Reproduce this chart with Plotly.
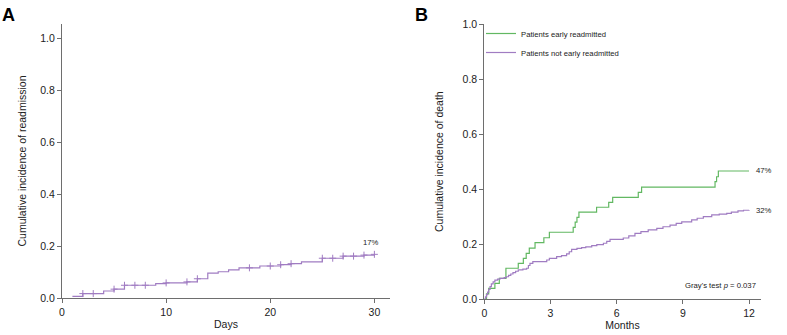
import numpy as np
import plotly.graph_objects as go

# ---------------- Data ----------------
# Panel A: cumulative incidence of readmission (days)
a_days = [1, 2, 4, 5, 6, 9, 10, 12, 13, 14, 15, 16, 17, 19, 21, 22, 23, 25, 27, 29, 30]
a_cif = [0.006, 0.017, 0.027, 0.034, 0.049, 0.055, 0.058, 0.062, 0.074, 0.096, 0.101,
         0.108, 0.116, 0.123, 0.128, 0.132, 0.139, 0.153, 0.161, 0.165, 0.168]
a_censor_days = [2, 3, 5, 6, 7, 8, 10, 12, 13, 18, 20, 21, 22, 25, 26, 27, 28, 29, 30]

# Panel B: cumulative incidence of death (months)
g_months = [0, 0.1, 0.2, 0.48, 0.68, 0.98, 1.54, 1.77, 1.9, 2.04, 2.3, 2.7, 2.95, 4.03, 4.12,
            4.2, 4.29, 5.09, 5.64, 5.82, 6.98, 7.13, 10.46, 10.53, 10.61, 12.0]
g_cif = [0.0, 0.019, 0.039, 0.057, 0.075, 0.112, 0.130, 0.148, 0.166, 0.185, 0.205, 0.223,
         0.243, 0.261, 0.280, 0.297, 0.316, 0.334, 0.352, 0.370, 0.388, 0.407, 0.427, 0.445,
         0.466, 0.466]

p_months = [0, 0.05, 0.1, 0.15, 0.2, 0.26, 0.32, 0.4, 0.48, 0.6, 0.71, 0.9, 1.0, 1.1, 1.2,
            1.3, 1.42, 1.54, 1.75, 1.92, 2.0, 2.07, 2.2, 2.83, 2.95, 3.28, 3.5, 3.73, 3.85,
            3.96, 4.2, 4.41, 4.6, 4.87, 5.1, 5.4, 5.55, 5.7, 6.3, 6.55, 6.83, 7.1, 7.43, 7.82,
            8.1, 8.42, 8.7, 8.95, 9.4, 9.65, 9.93, 10.31, 10.65, 10.99, 11.2, 11.5, 11.75, 12.0]
p_cif = [0.0, 0.008, 0.016, 0.025, 0.035, 0.045, 0.055, 0.062, 0.069, 0.072, 0.075, 0.078,
         0.081, 0.086, 0.091, 0.096, 0.101, 0.106, 0.109, 0.112, 0.122, 0.130, 0.136, 0.142,
         0.148, 0.154, 0.158, 0.164, 0.172, 0.181, 0.184, 0.187, 0.190, 0.194, 0.198, 0.203,
         0.210, 0.217, 0.222, 0.230, 0.239, 0.245, 0.252, 0.257, 0.263, 0.269, 0.275, 0.281,
         0.288, 0.294, 0.300, 0.306, 0.309, 0.312, 0.316, 0.321, 0.323, 0.324]

a_yticks = [0.0, 0.2, 0.4, 0.6, 0.8, 1.0]
a_xticks = [0, 10, 20, 30]
b_xticks = [0, 3, 6, 9, 12]

a_label = "17%"
g_label = "47%"
p_label = "32%"
gray_text = "Gray's test <i>p</i> = 0.037"

# ---------------- Styles ----------------
W, H = 787, 335
PURPLE = "#a07cc2"
GREEN = "#62b862"
AXIS = "#6e6e6e"
FONT = "Arial, Liberation Sans, sans-serif"


def step_at(times, vals, t):
    idx = np.searchsorted(np.asarray(times), t, side="right") - 1
    return np.asarray(vals)[idx]


a_censor_y = [float(step_at(a_days, a_cif, d)) for d in a_censor_days]

fig = go.Figure()

fig.add_trace(go.Scatter(x=a_days, y=a_cif, mode="lines", line=dict(shape="hv", color=PURPLE, width=1.2),
                         showlegend=False, xaxis="x", yaxis="y"))
fig.add_trace(go.Scatter(x=a_censor_days, y=a_censor_y, mode="markers",
                         marker=dict(symbol="cross-thin", size=5, line=dict(color=PURPLE, width=1)),
                         showlegend=False, xaxis="x", yaxis="y"))

fig.add_trace(go.Scatter(x=g_months, y=g_cif, mode="lines", line=dict(shape="hv", color=GREEN, width=1.2),
                         name="Patients early readmitted", xaxis="x2", yaxis="y2"))
fig.add_trace(go.Scatter(x=p_months, y=p_cif, mode="lines", line=dict(shape="hv", color=PURPLE, width=1.2),
                         name="Patients not early readmitted", xaxis="x2", yaxis="y2"))

axis_common = dict(showline=True, linecolor=AXIS, linewidth=1, ticks="outside", ticklen=4,
                   tickcolor=AXIS, tickwidth=1, showgrid=False, zeroline=False, automargin=False,
                   tickfont=dict(family=FONT, size=10.5, color="#222"),
                   title_font=dict(family=FONT, size=10.5, color="#222"))

fig.update_layout(
    width=W, height=H, margin=dict(l=0, r=0, t=0, b=0, autoexpand=False),
    plot_bgcolor="white", paper_bgcolor="white",
    font=dict(family=FONT),
    xaxis=dict(domain=[62 / W, 390 / W], range=[0, 31.5], tickvals=a_xticks,
               title=dict(text="Days", standoff=4), anchor="y", **axis_common),
    yaxis=dict(domain=[(H - 298) / H, (H - 24) / H], range=[0, 1.054], tickvals=a_yticks,
               tickformat=".1f", title=dict(text="Cumulative incidence of readmission", standoff=11),
               anchor="x", **axis_common),
    xaxis2=dict(domain=[484.3 / W, 760.7 / W], range=[0, 12.53], tickvals=b_xticks,
                title=dict(text="Months", standoff=3), anchor="y2", **axis_common),
    yaxis2=dict(domain=[(H - 299) / H, (H - 24.3) / H], range=[0, 1.0], tickvals=a_yticks,
                tickformat=".1f", title=dict(text="Cumulative incidence of death", standoff=16),
                anchor="x2", **axis_common),
    legend=dict(x=481 / W, y=(H - 19) / H, xanchor="left", yanchor="top",
                bgcolor="rgba(0,0,0,0)", font=dict(family=FONT, size=7.7, color="#222")),
)

ann_font = dict(family=FONT, size=7.7, color="#222")
fig.add_annotation(x=a_days[-1], y=a_cif[-1], xref="x", yref="y", text=a_label, showarrow=False,
                   xanchor="center", yanchor="bottom", xshift=-3, yshift=5, font=ann_font)
fig.add_annotation(x=g_months[-1], y=g_cif[-1], xref="x2", yref="y2", text=g_label, showarrow=False,
                   xanchor="left", yanchor="middle", xshift=5, font=ann_font)
fig.add_annotation(x=p_months[-1], y=p_cif[-1], xref="x2", yref="y2", text=p_label, showarrow=False,
                   xanchor="left", yanchor="middle", xshift=5, font=ann_font)
fig.add_annotation(x=12.4, y=0.048, xref="x2", yref="y2", text=gray_text, showarrow=False,
                   xanchor="right", yanchor="middle", font=ann_font)

fig.add_annotation(x=0 / W, y=1 - 3 / H, xref="paper", yref="paper", text="<b>A</b>", showarrow=False,
                   xanchor="left", yanchor="top", font=dict(family=FONT, size=18, color="black"))
fig.add_annotation(x=413 / W, y=1 - 3 / H, xref="paper", yref="paper", text="<b>B</b>", showarrow=False,
                   xanchor="left", yanchor="top", font=dict(family=FONT, size=18, color="black"))

post = ("document.documentElement.style.margin='0';document.body.style.margin='0';"
        "document.body.style.overflow='hidden';"
        "var d=document.getElementById('{plot_id}');"
        "d.style.position='fixed';d.style.left='0px';d.style.top='0px';")

fig.write_html("out.html", config={"displayModeBar": False}, post_script=post)
